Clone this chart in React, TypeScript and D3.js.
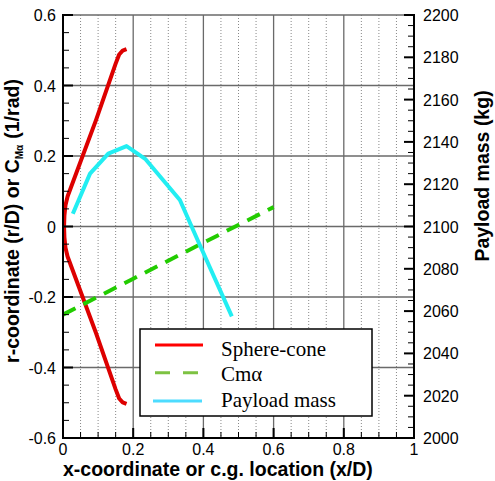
import React from "react";
import * as d3 from "d3";

const X_TICKS = [0, 0.2, 0.4, 0.6, 0.8, 1];
const X_TICK_LABELS = ["0", "0.2", "0.4", "0.6", "0.8", "1"];
const Y_TICKS = [-0.6, -0.4, -0.2, 0, 0.2, 0.4, 0.6];
const Y_TICK_LABELS = ["-0.6", "-0.4", "-0.2", "0", "0.2", "0.4", "0.6"];
const MASS_TICKS = [2000, 2020, 2040, 2060, 2080, 2100, 2120, 2140, 2160, 2180, 2200];

// Sphere-cone body profile (x/D, r/D)
const SPHERE_CONE_X = [0.181, 0.170, 0.160, 0.150, 0.094, 0.013, 0.007, 0.004, 0.003, 0.004, 0.007, 0.013, 0.094, 0.150, 0.160, 0.170, 0.181];
const SPHERE_CONE_R = [0.503, 0.499, 0.488, 0.462, 0.302, 0.085, 0.06, 0.03, 0, -0.03, -0.06, -0.085, -0.302, -0.462, -0.488, -0.499, -0.503];

// Cm-alpha vs c.g. location
const CMA_X = [0, 0.2, 0.4, 0.6];
const CMA_V = [-0.25, -0.148, -0.046, 0.055];

// Payload mass vs c.g. location
const MASS_X = [0.028, 0.077, 0.129, 0.181, 0.234, 0.285, 0.333, 0.385, 0.481];
const MASS_V = [2106, 2125, 2134.5, 2138, 2132, 2122, 2112.5, 2093, 2057.5];

const LEGEND_LABELS = ["Sphere-cone", "Cm\u03b1", "Payload mass"];

export default function App() {
  const L = 63, R = 414, T = 15, B = 438;
  const x = d3.scaleLinear().domain([0, 1]).range([L, R]);
  const y = d3.scaleLinear().domain([-0.6, 0.6]).range([B, T]);
  const ym = d3.scaleLinear().domain([2000, 2200]).range([B, T]);

  const line = d3.line<[number, number]>().x((d) => x(d[0])).y((d) => y(d[1]));
  const lineM = d3.line<[number, number]>().x((d) => x(d[0])).y((d) => ym(d[1]));

  const red = SPHERE_CONE_X.map((v, i) => [v, SPHERE_CONE_R[i]] as [number, number]);
  const green = CMA_X.map((v, i) => [v, CMA_V[i]] as [number, number]);
  const cyan = MASS_X.map((v, i) => [v, MASS_V[i]] as [number, number]);

  const minorX = d3.range(0, 21).map((i) => i * 0.05).filter((v) => Math.abs(v * 5 - Math.round(v * 5)) > 1e-6);
  const minorY = d3.range(0, 25).map((i) => -0.6 + i * 0.05).filter((v) => Math.abs(v * 5 - Math.round(v * 5)) > 1e-6);
  const minorM = d3.range(2000, 2201, 5).filter((v) => v % 20 !== 0);

  const sans = "'Liberation Sans', Arial, Helvetica, sans-serif";
  const serif = "'Liberation Serif', 'Times New Roman', serif";

  return (
    <svg width={495} height={481} style={{ position: "absolute", left: 0, top: 0, background: "#fff" }}>
      {/* minor vertical dotted grid */}
      {minorX.map((v) => (
        <line key={"mx" + v} x1={x(v)} x2={x(v)} y1={T} y2={B} stroke="#888" strokeWidth={1} strokeDasharray="1,2" />
      ))}
      {/* major grid */}
      {X_TICKS.slice(1, -1).map((v) => (
        <line key={"gx" + v} x1={x(v)} x2={x(v)} y1={T} y2={B} stroke="#6a6a6a" strokeWidth={1.3} />
      ))}
      {Y_TICKS.slice(1).map((v) => (
        <line key={"gy" + v} x1={L} x2={R} y1={y(v)} y2={y(v)} stroke="#6a6a6a" strokeWidth={1.3} />
      ))}

      {/* curves */}
      <path d={line(red) || ""} fill="none" stroke="#dd0000" strokeWidth={4} strokeLinejoin="round" />
      <path d={line(green) || ""} fill="none" stroke="#22cc00" strokeWidth={4} strokeDasharray="14,9" />
      <path d={lineM(cyan) || ""} fill="none" stroke="#22eef2" strokeWidth={4} strokeLinejoin="round" />

      {/* axes */}
      <line x1={L} x2={L} y1={T - 1} y2={B + 1} stroke="#000" strokeWidth={2} />
      <line x1={R} x2={R} y1={T - 1} y2={B + 1} stroke="#000" strokeWidth={2} />
      <line x1={L} x2={R} y1={B} y2={B} stroke="#000" strokeWidth={2} />

      {/* left ticks */}
      {Y_TICKS.map((v) => (
        <line key={"ly" + v} x1={L} x2={L + 10} y1={y(v)} y2={y(v)} stroke="#000" strokeWidth={2} />
      ))}
      {minorY.map((v) => (
        <line key={"lmy" + v} x1={L} x2={L + 6} y1={y(v)} y2={y(v)} stroke="#000" strokeWidth={1} />
      ))}
      {/* right ticks */}
      {MASS_TICKS.map((v) => (
        <line key={"ry" + v} x1={R - 10} x2={R} y1={ym(v)} y2={ym(v)} stroke="#000" strokeWidth={2} />
      ))}
      {minorM.map((v) => (
        <line key={"rmy" + v} x1={R - 6} x2={R} y1={ym(v)} y2={ym(v)} stroke="#000" strokeWidth={1} />
      ))}
      {/* bottom ticks */}
      {X_TICKS.map((v) => (
        <line key={"bx" + v} x1={x(v)} x2={x(v)} y1={B} y2={B - 10} stroke="#000" strokeWidth={2} />
      ))}
      {minorX.map((v) => (
        <line key={"bmx" + v} x1={x(v)} x2={x(v)} y1={B} y2={B - 6} stroke="#000" strokeWidth={1} />
      ))}

      {/* tick labels */}
      {Y_TICKS.map((v, i) => (
        <text key={"lyl" + v} x={56} y={y(v) + 6} textAnchor="end" fontSize={16} fontFamily={sans} fill="#000">
          {Y_TICK_LABELS[i]}
        </text>
      ))}
      {MASS_TICKS.map((v) => (
        <text key={"ryl" + v} x={423} y={ym(v) + 6} textAnchor="start" fontSize={16} fontFamily={sans} fill="#000">
          {v}
        </text>
      ))}
      {X_TICKS.map((v, i) => (
        <text key={"bxl" + v} x={x(v)} y={454.5} textAnchor="middle" fontSize={16} fontFamily={sans} fill="#000">
          {X_TICK_LABELS[i]}
        </text>
      ))}

      {/* axis titles */}
      <text x={63} y={476} fontSize={19.5} fontWeight="bold" fontFamily={sans} fill="#000">
        x-coordinate or c.g. location (x/D)
      </text>
      <text transform="translate(19,221) rotate(-90)" textAnchor="middle" fontSize={19.5} fontWeight="bold" fontFamily={sans} fill="#000">
        r-coordinate (r/D) or C<tspan fontSize={10} dy={4}>M{"\u03b1"}</tspan>
        <tspan dy={-4} dx={6}>(1/rad)</tspan>
      </text>
      <text transform="translate(489,176) rotate(-90)" textAnchor="middle" fontSize={19.5} fontWeight="bold" fontFamily={sans} fill="#000">
        Payload mass (kg)
      </text>

      {/* legend */}
      <rect x={140} y={329} width={232} height={87} fill="#fff" stroke="#000" strokeWidth={1.5} />
      <line x1={155} x2={203} y1={345} y2={345} stroke="#ff0000" strokeWidth={3} />
      <line x1={155} x2={203} y1={372.7} y2={372.7} stroke="#7dc242" strokeWidth={3} strokeDasharray="15,13" />
      <line x1={153} x2={202} y1={401} y2={401} stroke="#4ddcff" strokeWidth={3} />
      {LEGEND_LABELS.map((t, i) => (
        <text key={t} x={221} y={[355.5, 381, 406.5][i]} fontSize={21} fontFamily={serif} fill="#000">
          {t}
        </text>
      ))}
    </svg>
  );
}
